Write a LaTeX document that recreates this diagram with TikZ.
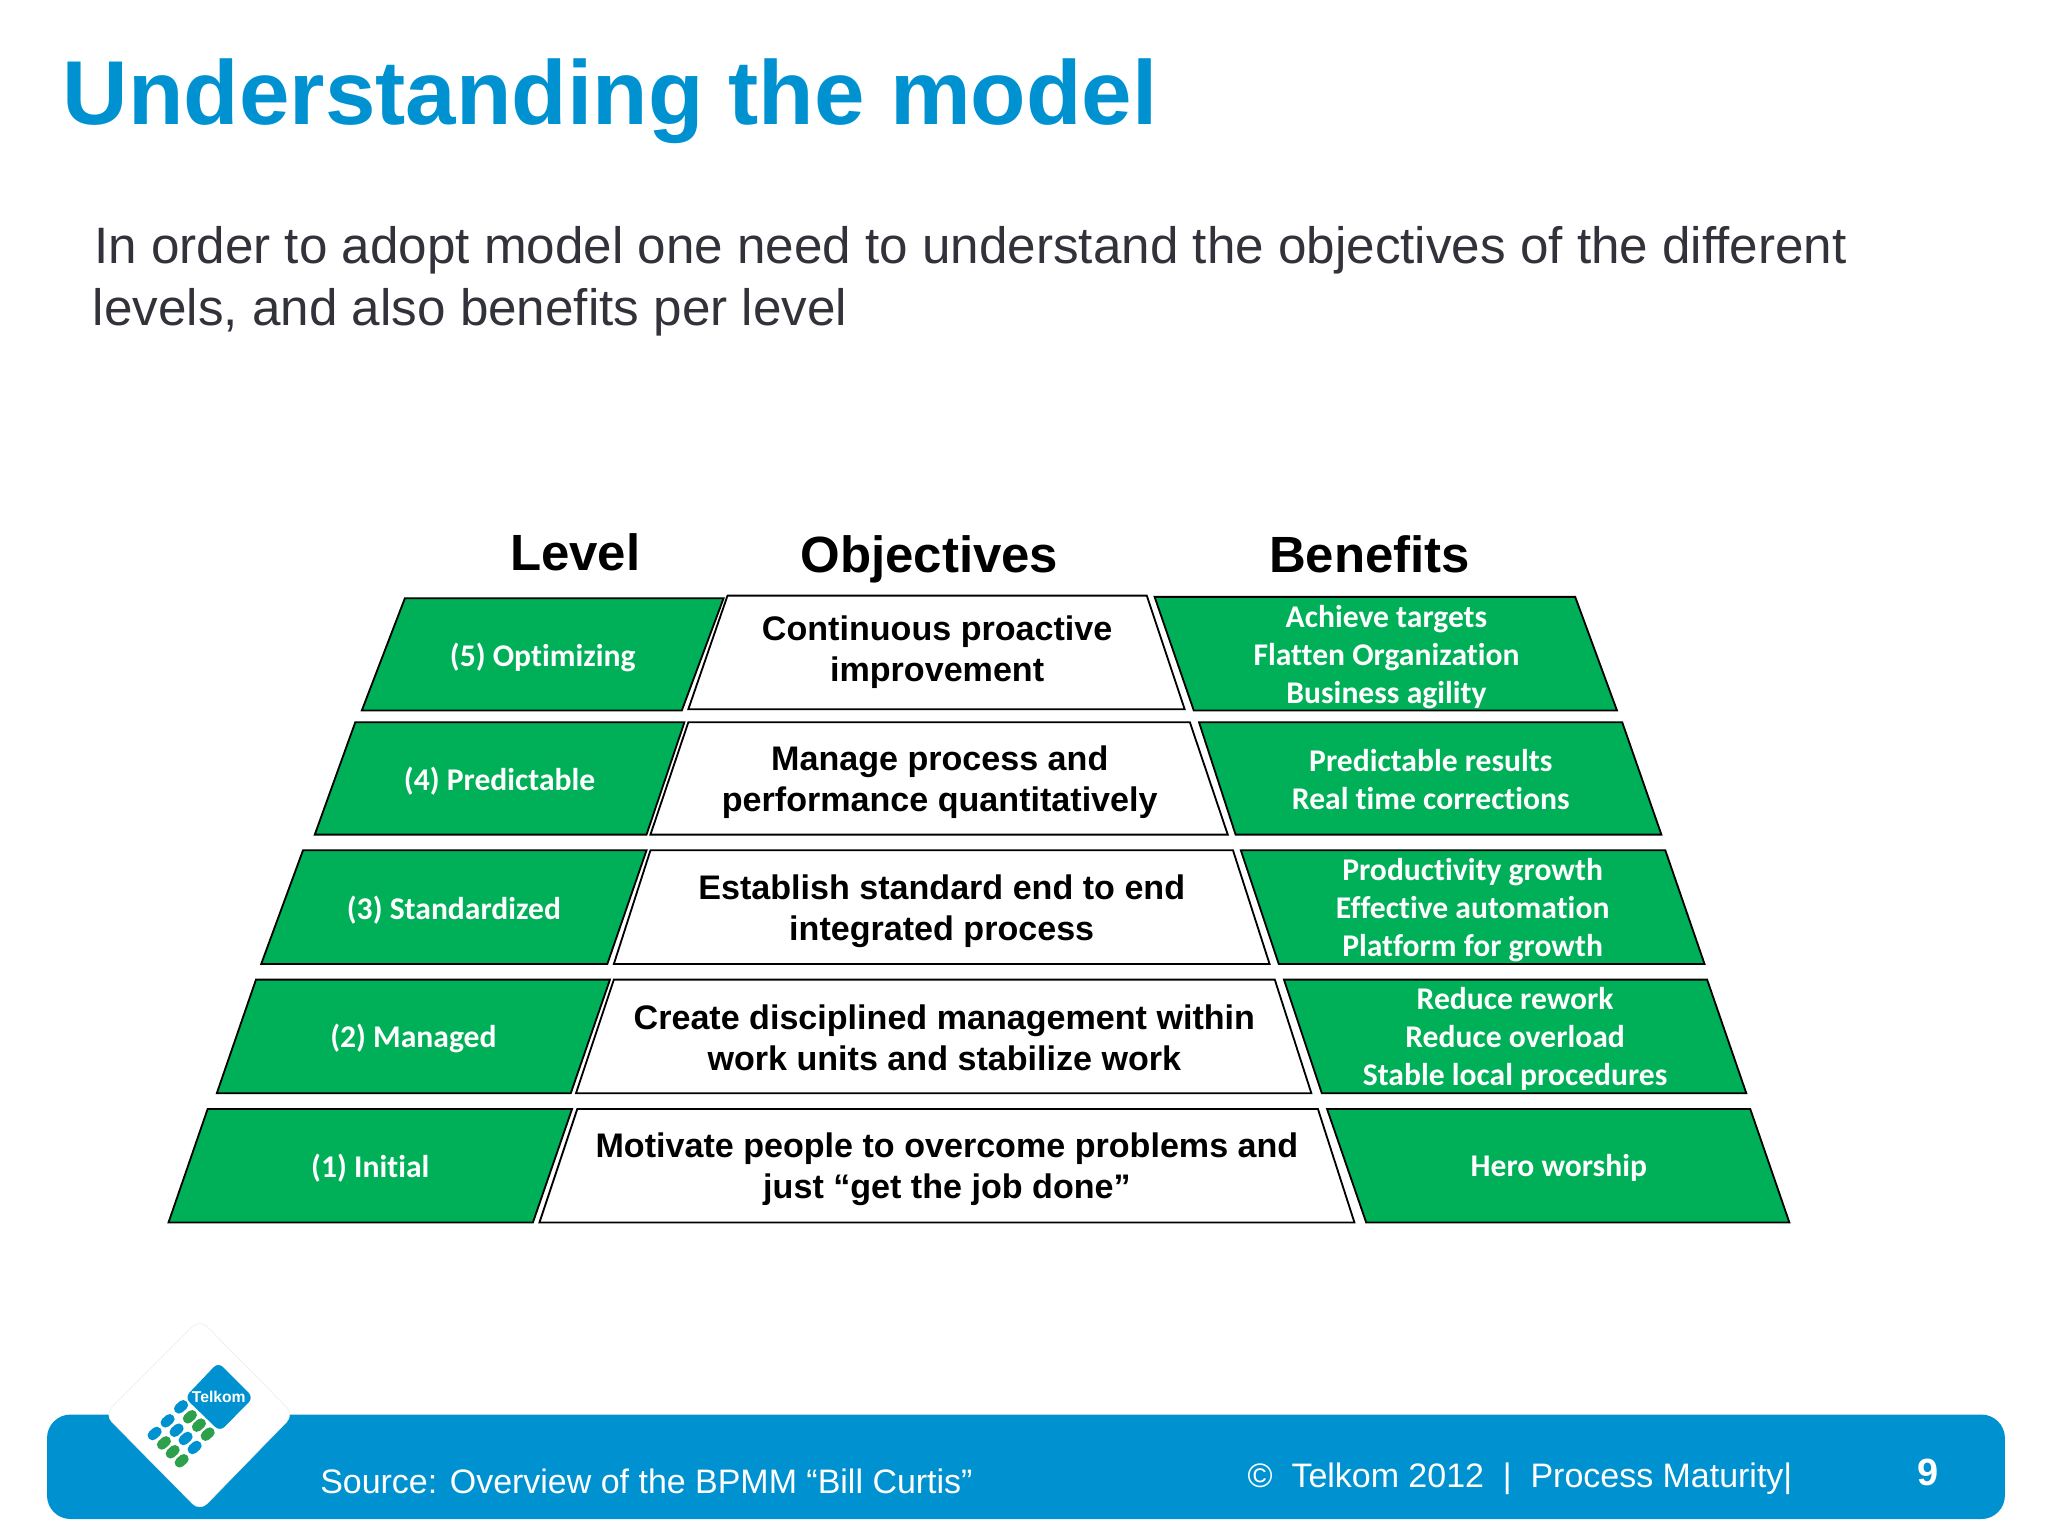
\documentclass[tikz,border=0pt]{standalone}
\usepackage{fontspec}
\setmainfont{Liberation Sans}
\newfontfamily\calibrifont[Ligatures=NoCommon]{Carlito}
\definecolor{telkomblue}{RGB}{0,146,208}
\definecolor{levelgreen}{RGB}{0,176,88}
\definecolor{logogreen}{RGB}{45,160,75}
\definecolor{bodygrey}{RGB}{50,50,58}
\tikzset{
  levelbox/.style={draw=black, line width=1.4, miter limit=2, fill=levelgreen},
  objbox/.style={draw=black, line width=1.4, miter limit=2, fill=white},
  greenlabel/.style={text=white, align=center, font=\calibrifont\bfseries\fontsize{24.2}{29}\selectfont},
  objlabel/.style={text=black, align=center, font=\bfseries\fontsize{26.1}{31.5}\selectfont},
  headlabel/.style={text=black, anchor=base, font=\bfseries\fontsize{39}{44}\selectfont},
  footlabel/.style={text=white, anchor=base west, inner sep=0, font=\fontsize{26}{32}\selectfont}
}
\begin{document}
\begin{tikzpicture}[x=1pt, y=-1pt]
\useasboundingbox (0, 0) rectangle (1568, 1176);
\node [anchor=base west, inner sep=0, text=telkomblue, font=\bfseries\fontsize{69.5}{80}\selectfont] (title) at (48, 95) {Understanding the model};
\node [anchor=base west, inner sep=0, text=bodygrey, font=\fontsize{39.2}{47}\selectfont] (introone) at (72, 202) {In order to adopt model one need to understand the objectives of the different};
\node [anchor=base west, inner sep=0, text=bodygrey, font=\fontsize{39.2}{47}\selectfont] (introtwo) at (71, 249) {levels, and also benefits per level};
\node [headlabel] (level) at (440.5, 436.5) {Level};
\node [headlabel] (objectives) at (711.5, 438) {Objectives};
\node [headlabel] (benefits) at (1048.5, 438) {Benefits};
\foreach \tl/\tr/\br/\bl/\t/\b in {310/554/522/277/458/544, 272/524/495/241/553/639, 232/495/465/200/651/738, 196/467/437/166/750/837, 159/438/408/129/849/936}{\draw [levelbox] (\tl, \t) -- (\tr, \t) -- (\br, \b) -- (\bl, \b) -- cycle;}
\foreach \tl/\tr/\br/\bl/\t/\b in {557/878/907/527/456/543, 527/911/940/498/553/639, 498/944/972/470/651/738, 470/976/1004/441/750/837, 442/1009/1037/413/849/936}{\draw [objbox] (\tl, \t) -- (\tr, \t) -- (\br, \b) -- (\bl, \b) -- cycle;}
\foreach \tl/\tr/\br/\bl/\t/\b in {884/1206/1238/914/457/544, 918/1242/1272/946/553/639, 950/1275/1305/979/651/738, 983/1307/1337/1012/750/837, 1016/1340/1370/1046/849/936}{\draw [levelbox] (\tl, \t) -- (\tr, \t) -- (\br, \b) -- (\bl, \b) -- cycle;}
\node [greenlabel] (levelfive) at (415.5, 503) {(5) Optimizing};
\node [greenlabel] (levelfour) at (382.5, 598) {(4) Predictable};
\node [greenlabel] (levelthree) at (347.5, 697) {(3) Standardized};
\node [greenlabel] (leveltwo) at (316.5, 795) {(2) Managed};
\node [greenlabel] (levelone) at (283.5, 894) {(1) Initial};
\node [objlabel] (objfive) at (717.5, 499.5) {Continuous proactive\\improvement};
\node [objlabel] (objfour) at (719.5, 599) {Manage process and\\performance quantitatively};
\node [objlabel] (objthree) at (721, 697.5) {Establish standard end to end\\integrated process};
\node [objlabel] (objtwo) at (723, 794.5) {Create disciplined management within\\work units and stabilize work};
\node [objlabel] (objone) at (725, 895.5) {Motivate people to overcome problems and\\just “get the job done”};
\node [greenlabel] (benfive) at (1061.5, 503) {Achieve targets\\Flatten Organization\\Business agility};
\node [greenlabel] (benfour) at (1095.5, 597) {Predictable results\\Real time corrections};
\node [greenlabel] (benthree) at (1127.5, 697) {Productivity growth\\Effective automation\\Platform for growth};
\node [greenlabel] (bentwo) at (1160, 795.5) {Reduce rework\\Reduce overload\\Stable local procedures};
\node [greenlabel] (benone) at (1193.5, 894) {Hero worship};
\fill [telkomblue, rounded corners=18] (36, 1083) rectangle (1535, 1163);
\filldraw [fill=white, draw=black!8, rounded corners=8] (153, 1010) -- (225, 1083) -- (153, 1157) -- (80, 1083) -- cycle;
\fill [telkomblue, rounded corners=5] (167.1, 1043) -- (194, 1070) -- (168.4, 1096) -- (141.5, 1070) -- cycle;
\node [text=white, inner sep=0, font=\bfseries\fontsize{12}{14}\selectfont] (logoname) at (167.5, 1069.5) {Telkom};
\foreach \x/\y in {138.6/1077.1, 128.3/1087.8, 118.4/1097.5, 135.2/1095, 142.1/1101.3, 149/1108.2}{\draw [telkomblue, line width=7.6, line cap=round] (\x-1.6, \y+1.4) -- (\x+1.6, \y-1.4);}
\foreach \x/\y in {145.4/1084.7, 152.3/1091.1, 159/1098, 125.5/1104.7, 132.2/1111.5, 139.1/1118.4}{\draw [logogreen, line width=7.6, line cap=round] (\x-1.6, \y+1.4) -- (\x+1.6, \y-1.4);}
\node [footlabel] (source) at (245, 1143.5) {Source: Overview of the BPMM “Bill Curtis”};
\node [footlabel] (copyright) at (955, 1139) {©\ \ Telkom 2012\ \ |\ \ Process Maturity|};
\node [text=white, inner sep=0, font=\bfseries\fontsize{29}{34}\selectfont] (pagenum) at (1476, 1127) {9};
\end{tikzpicture}
\end{document}
